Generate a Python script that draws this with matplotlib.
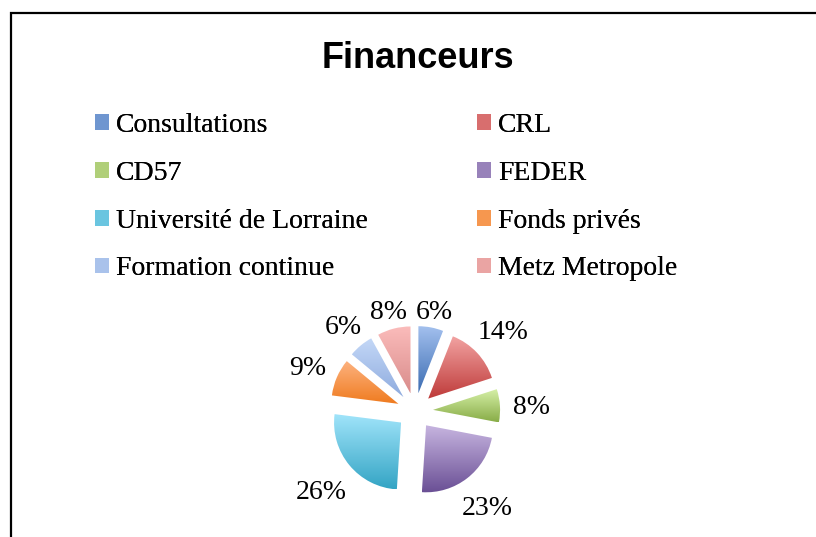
#!/usr/bin/env python3
import numpy as np
import matplotlib.pyplot as plt
from matplotlib.colors import LinearSegmentedColormap, to_rgb
from matplotlib.patches import Patch, Rectangle

labels = ["Consultations", "CRL", "CD57", "FEDER",
          "Université de Lorraine", "Fonds privés",
          "Formation continue", "Metz Metropole"]
shares = [6, 14, 8, 23, 26, 9, 6, 8]
# (top colour, bottom colour) of each slice's gradient
top_colors = ["#a3c0ee", "#f2a3a2", "#d8f1aa", "#c7b5e0",
              "#a2e5fb", "#fdb27f", "#c4d8f7", "#fbbcbb"]
bottom_colors = ["#3b6cb2", "#be3a39", "#88ad47", "#694e94",
                 "#33a4c4", "#ef7b1f", "#8eabde", "#d98c8b"]


def shade_wedge(ax, wedge, c_top, c_bot):
    """Fill a wedge with a vertical gradient (light top, dark bottom)"""
    path = wedge.get_path()
    verts = wedge.get_patch_transform().transform(path.vertices)
    x0, y0 = verts.min(axis=0)
    x1, y1 = verts.max(axis=0)
    cmap = LinearSegmentedColormap.from_list("g", [c_bot, c_top])
    grad = np.linspace(0, 1, 256).reshape(-1, 1)
    im = ax.imshow(grad, cmap=cmap, origin="lower", aspect="auto",
                   extent=(x0, x1, y0, y1), zorder=2)
    im.set_clip_path(wedge)
    wedge.set_facecolor("none")


fig = plt.figure(figsize=(8.16, 5.37), dpi=100)
renderer = fig.canvas.get_renderer()

# chart frame (cropped on the right and bottom)
fig.patches.append(Rectangle((10.5 / 816, -0.1), 1.2, 1.1 - 12.5 / 537,
                             transform=fig.transFigure, fill=False,
                             edgecolor="black", linewidth=1.6))

fig.text(418 / 816, 1 - 58 / 537, "Financeurs", ha="center", va="center",
         fontsize=26, fontweight="bold", family="Liberation Sans")

# pie, centred at about (415, 411) px, radius ~67 px
r_px = 67
explode = 0.27
cx, cy = 415, 411
ax = fig.add_axes([(cx - 150) / 816, (537 - cy - 150) / 537, 300 / 816, 300 / 537])
ax.axis("off")

wedges, texts, autotexts = ax.pie(
    shares, startangle=90, counterclock=False, radius=1,
    explode=[explode] * len(shares), autopct="%1.0f%%", pctdistance=1.5,
    textprops=dict(fontsize=20, family="Liberation Serif"),
    wedgeprops=dict(linewidth=0))
ax.set_xlim(-150 / r_px, 150 / r_px)
ax.set_ylim(-150 / r_px, 150 / r_px)
ax.set_aspect("equal")
for w, ct, cb in zip(wedges, top_colors, bottom_colors):
    shade_wedge(ax, w, ct, cb)

# labels just outside each slice ("outside end")
gap = 9
for w, t in zip(wedges, autotexts):
    theta = np.deg2rad((w.theta1 + w.theta2) / 2)
    bb = t.get_window_extent(renderer)
    half = abs(np.cos(theta)) * bb.width * 0.6 + abs(np.sin(theta)) * bb.height * 0.25
    d = (r_px * (1 + explode) + gap + half) / r_px
    t.set_position((d * np.cos(theta), d * np.sin(theta) - 4 / r_px))

# legend, two columns filled row by row
handles = [Patch(facecolor=(np.array(to_rgb(a)) + np.array(to_rgb(b))) / 2,
                 edgecolor="none", label=l)
           for l, a, b in zip(labels, top_colors, bottom_colors)]
for col, x in enumerate([95, 477]):
    idx = list(range(col, len(labels), 2))
    leg = fig.legend([handles[i] for i in idx], [labels[i] for i in idx],
                     loc="upper left", bbox_to_anchor=(x / 816, 1 - 113 / 537),
                     frameon=False, prop=dict(family="Liberation Serif", size=20),
                     handlelength=0.5, handleheight=0.5, handletextpad=0.25,
                     labelspacing=0.82, borderpad=0, borderaxespad=0)
    fig.add_artist(leg)

plt.savefig("out.png", dpi=100)
plt.close()
